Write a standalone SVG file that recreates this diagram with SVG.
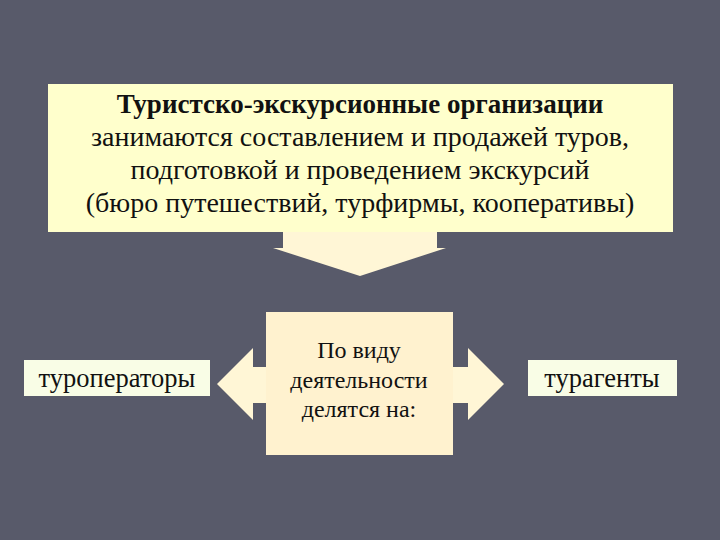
<svg xmlns="http://www.w3.org/2000/svg" width="720" height="540" viewBox="0 0 720 540">
<style>
.t{font-family:'Liberation Serif','Times New Roman','DejaVu Serif',serif;fill:#111;text-anchor:middle}
.top{fill:#FFFFCC}
.mid{fill:#FFF2CF}
.lab{fill:#F9FDE6}
.arr{fill:#FFF6D6}
</style>
<rect width="720" height="540" fill="#585A6A"/>
<g id="connectors">
<path class="arr" d="M283,232 L437,232 L437,248 L446,248 L360,276 L273,248 L283,248 Z"/>
<path class="arr" d="M266,367 L253,367 L253,348 L217,384 L253,420 L253,403 L266,403 Z"/>
<path class="arr" d="M452,367 L468,367 L468,348 L504,384 L468,420 L468,403 L452,403 Z"/>
</g>
<g id="top">
<rect x="48" y="84" width="625" height="148" class="top"/>
<text class="t" x="360" y="113" font-size="27" font-weight="bold">Туристско-экскурсионные организации</text>
<text class="t" x="360" y="146" font-size="28">занимаются составлением и продажей туров,</text>
<text class="t" x="360" y="179" font-size="28">подготовкой и проведением экскурсий</text>
<text class="t" x="360" y="212" font-size="28">(бюро путешествий, турфирмы, кооперативы)</text>
</g>
<g id="middle">
<rect x="266" y="312" width="187" height="143" class="mid"/>
<text class="t" x="359" y="358" font-size="24">По виду</text>
<text class="t" x="359" y="388" font-size="24">деятельности</text>
<text class="t" x="359" y="417" font-size="24">делятся на:</text>
</g>
<g id="left">
<rect x="24" y="360" width="186" height="36" class="lab"/>
<text class="t" x="117" y="387" font-size="26.5">туроператоры</text>
</g>
<g id="right">
<rect x="528" y="360" width="149" height="36" class="lab"/>
<text class="t" x="602" y="387" font-size="26.5">турагенты</text>
</g>
</svg>
